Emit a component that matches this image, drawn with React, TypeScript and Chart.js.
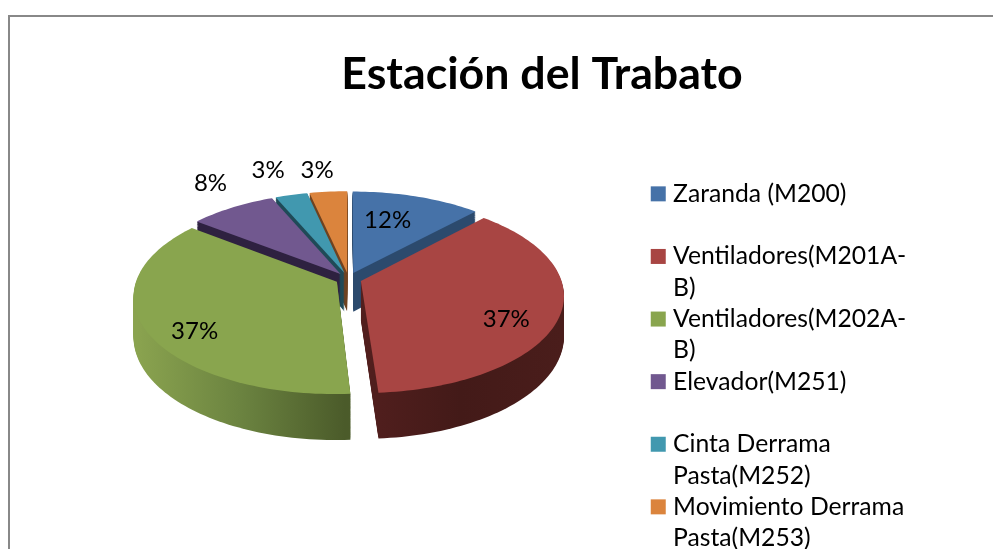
import React, { useEffect, useRef } from "react";
import { Chart, registerables } from "chart.js";

Chart.register(...registerables);

const chartTitle = "Estación del Trabato";
const categories = [
  "Zaranda (M200)",
  "Ventiladores(M201A-B)",
  "Ventiladores(M202A-B)",
  "Elevador(M251)",
  "Cinta Derrama Pasta(M252)",
  "Movimiento Derrama Pasta(M253)",
];
const percentages = [12, 36.95, 36.5, 8.06, 3, 3.49];
const legendLines = [
  ["Zaranda (M200)", ""],
  ["Ventiladores(M201A-", "B)"],
  ["Ventiladores(M202A-", "B)"],
  ["Elevador(M251)", ""],
  ["Cinta Derrama", "Pasta(M252)"],
  ["Movimiento Derrama", "Pasta(M253)"],
];
const topColors = ["#4672A8", "#A84543", "#89A54E", "#71588F", "#4198AF", "#DB843D"];
const wallColors = [
  ["#2C4A6D", "#2C4A6D"],
  ["#521F1E", "#431A18", "#4A1D1B"],
  ["#8AA34F", "#6B8340", "#4B5B2A"],
  ["#2E2140", "#2E2140"],
  ["#1F4A57", "#1F4A57"],
  ["#6E4220", "#6E4220"],
];

// painter's order: far slices first
const paintOrder = [0, 5, 4, 3, 2, 1];
// label placement around each slice: radius fraction and angle shift (degrees)
const labelRadius = [0.642, 0.779, 0.81, 1.369, 1.385, 1.32];
const labelShift = [-4.3, 9.3, -8.0, 3.7, -1.5, -1.6];

const FONT = '"Lato"';

// perspective view of the pie plane
const VIEW = { a: 200, b: 95, k: 0.146, depth: 39 };

function project(cx: number, cy: number, u: number, v: number, drop: number) {
  const w = 1 - VIEW.k * v;
  return [cx + (VIEW.a * u) / w, cy + (VIEW.b * v) / w + drop / w];
}

function slicePath(ctx: CanvasRenderingContext2D, el: any, drop: number) {
  const { x, y, startAngle, endAngle, outerRadius } = el;
  const mid = (startAngle + endAngle) / 2;
  const off = (el.options.offset || 0) / 4 / outerRadius;
  const ou = Math.cos(mid) * off;
  const ov = Math.sin(mid) * off;
  ctx.beginPath();
  const tip = project(x, y, ou, ov, drop);
  ctx.moveTo(tip[0], tip[1]);
  const steps = Math.max(6, Math.ceil((endAngle - startAngle) * 40));
  for (let i = 0; i <= steps; i++) {
    const t = startAngle + ((endAngle - startAngle) * i) / steps;
    const p = project(x, y, ou + Math.cos(t), ov + Math.sin(t), drop);
    ctx.lineTo(p[0], p[1]);
  }
  ctx.closePath();
}

const pie3d = {
  id: "pie3d",
  beforeLayout(chart: any) {
    const legend = chart.legend;
    if (legend && !legend.__wrapped) {
      legend.__wrapped = true;
      const fit = legend.fit.bind(legend);
      legend.fit = () => {
        fit();
        legend.width = 387;
      };
      // the keys sit slightly left of the legend's origin, so draw unclipped
      legend.draw = () => legend._draw();
    }
  },
  afterLayout(chart: any) {
    const legend = chart.legend;
    legend.left = 645.75;
    legend.right = 1025;
    legend.top = 164.5;
    legend.bottom = 700;
  },
  beforeDatasetsDraw(chart: any) {
    const ctx = chart.ctx as CanvasRenderingContext2D;
    const arcs = chart.getDatasetMeta(0).data;
    ctx.save();
    paintOrder.forEach((i) => {
      const el = arcs[i];
      const stops = wallColors[i];
      const mid = (el.startAngle + el.endAngle) / 2;
      const off = (el.options.offset || 0) / 4 / el.outerRadius;
      const x0 = project(el.x, el.y, Math.cos(mid) * off - 1, 0, 0)[0];
      const x1 = project(el.x, el.y, Math.cos(mid) * off, 0, 0)[0];
      const g = ctx.createLinearGradient(
        i === 1 ? x1 : x0,
        0,
        i === 1 ? x1 + VIEW.a : x1 + 8,
        0
      );
      stops.forEach((c, s) => g.addColorStop(s / (stops.length - 1), c));
      ctx.fillStyle = g;
      for (let d = VIEW.depth; d > 0; d -= 1) {
        slicePath(ctx, el, d);
        ctx.fill();
      }
      ctx.fillStyle = el.options.backgroundColor;
      slicePath(ctx, el, 0);
      ctx.fill();
    });
    ctx.restore();
    return false;
  },
  afterDraw(chart: any) {
    const ctx = chart.ctx as CanvasRenderingContext2D;
    const arcs = chart.getDatasetMeta(0).data;
    ctx.save();
    ctx.fillStyle = "#000";
    ctx.font = `24px ${FONT}`;
    ctx.textAlign = "center";
    ctx.textBaseline = "middle";
    arcs.forEach((el: any, i: number) => {
      const mid = (el.startAngle + el.endAngle) / 2;
      const off = (el.options.offset || 0) / 4 / el.outerRadius;
      const t = mid + (labelShift[i] * Math.PI) / 180;
      const p = project(
        el.x,
        el.y,
        Math.cos(mid) * off + Math.cos(t) * labelRadius[i],
        Math.sin(mid) * off + Math.sin(t) * labelRadius[i],
        0
      );
      ctx.fillText(`${Math.round(percentages[i])}%`, p[0], p[1]);
    });
    ctx.restore();
  },
};

export default function App() {
  const ref = useRef<HTMLCanvasElement | null>(null);
  useEffect(() => {
    if (!ref.current) return;
    const chart = new Chart(ref.current, {
      type: "pie",
      data: {
        labels: categories,
        datasets: [
          {
            data: percentages,
            backgroundColor: topColors,
            borderWidth: 0,
            offset: 35,
          },
        ],
      },
      options: {
        responsive: false,
        animation: false,
        layout: { padding: { left: 40, right: 40, top: 0, bottom: 119 } },
        plugins: {
          tooltip: { enabled: false },
          title: {
            display: true,
            text: chartTitle,
            color: "#000",
            font: { family: FONT, size: 44.7, weight: "bold", lineHeight: 1.2 },
            padding: { top: 31, bottom: 26 },
          },
          legend: {
            display: true,
            position: "right",
            align: "start",
            labels: {
              color: "#000",
              font: { family: FONT, size: 24.7, lineHeight: 31.3 / 24.7 },
              usePointStyle: true,
              boxWidth: 5,
              boxHeight: 15,
              padding: 0,
              generateLabels: () =>
                legendLines.map((text, i) => ({
                  text,
                  fillStyle: topColors[i],
                  strokeStyle: topColors[i],
                  lineWidth: 0,
                  pointStyle: "rect",
                  index: i,
                  hidden: false,
                })) as any,
            },
          },
        },
      },
      plugins: [pie3d as any],
    });
    return () => chart.destroy();
  }, []);
  return (
    <div style={{ position: "fixed", inset: 0, overflow: "hidden", background: "#fff" }}>
      <div
        style={{
          position: "absolute",
          left: 8,
          top: 15,
          width: 1200,
          height: 700,
          borderLeft: "2px solid #888",
          borderTop: "2px solid #888",
        }}
      >
        <canvas ref={ref} width={1064} height={532} style={{ display: "block" }} />
      </div>
    </div>
  );
}
